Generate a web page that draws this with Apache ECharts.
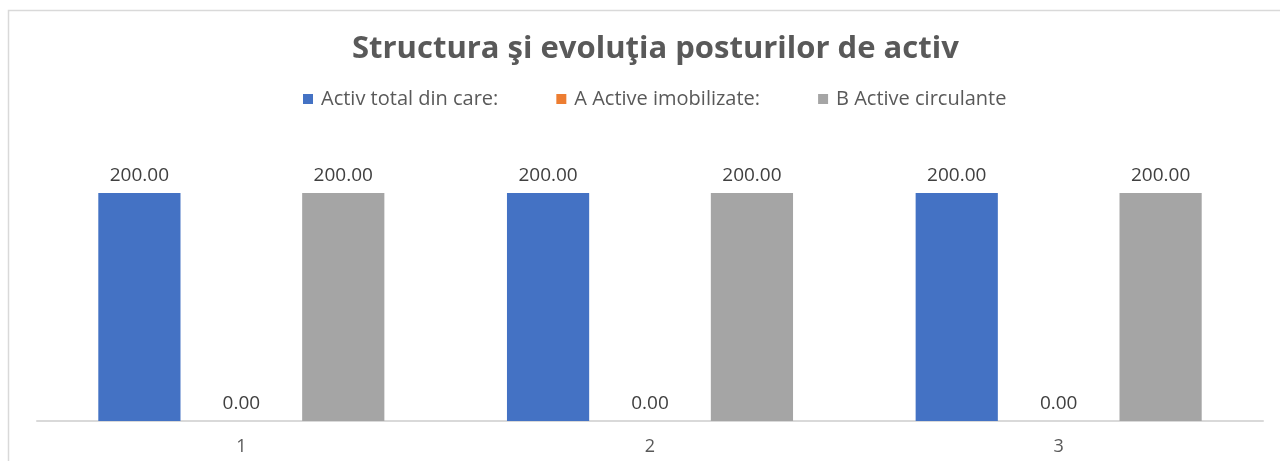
<!DOCTYPE html>
<html>
<head>
<meta charset="utf-8">
<style>
  html, body { margin: 0; padding: 0; background: #fff; }
  #main { width: 1280px; height: 461px; }
</style>
<script src="https://cdn.jsdelivr.net/npm/echarts@6/dist/echarts.min.js"></script>
</head>
<body>
<div id="main"></div>
<script>
const categories = ['1', '2', '3']
const seriesNames = ['Activ total din care:', 'A Active imobilizate:', 'B Active circulante']
const activTotal = [200, 200, 200]
const activeImobilizate = [0, 0, 0]
const activeCirculante = [200, 200, 200]

const font = '"Open Sans", "Noto Sans", sans-serif'

let chart = echarts.init(document.querySelector('#main'))

// etichetele de deasupra barelor
const labelStyle = {
  show: true,
  position: 'top',
  distance: 8,
  formatter: p => p.value.toFixed(2),
  color: '#404040',
  fontSize: 19,
  fontFamily: font
}

let option = {
  animation: false,
  color: ['#4472C4', '#ED7D31', '#A5A5A5'],
  title: {
    text: 'Structura şi evoluţia posturilor de activ',
    left: 347,
    top: 29,
    textStyle: {
      color: '#595959',
      fontSize: 31,
      fontWeight: 'bold',
      fontFamily: font
    }
  },
  legend: {
    top: 84,
    left: 298,
    itemWidth: 10,
    itemHeight: 10,
    itemGap: 58,
    icon: 'rect',
    textStyle: {
      color: '#595959',
      fontSize: 20,
      padding: [0, 0, 0, 3],
      fontFamily: font
    }
  },
  // chenarul graficului
  graphic: [{
    type: 'rect',
    shape: { x: 8.5, y: 10.5, width: 1300, height: 500 },
    style: { fill: null, stroke: '#d9d9d9', lineWidth: 1.5 },
    silent: true
  }],
  grid: {
    left: 37,
    right: 17,
    top: 136,
    bottom: 40
  },
  xAxis: {
    type: 'category',
    data: categories,
    axisTick: { show: false },
    axisLine: { lineStyle: { color: '#d9d9d9', width: 2 } },
    axisLabel: {
      margin: 17,
      color: '#595959',
      fontSize: 18,
      fontFamily: font
    }
  },
  yAxis: {
    type: 'value',
    min: 0,
    max: 250,
    show: false,
    splitLine: { show: false }
  },
  series: [
    {
      type: 'bar',
      name: seriesNames[0],
      data: activTotal,
      barGap: '24%',
      barCategoryGap: '30%',
      label: labelStyle
    },
    {
      type: 'bar',
      name: seriesNames[1],
      data: activeImobilizate,
      label: labelStyle
    },
    {
      type: 'bar',
      name: seriesNames[2],
      data: activeCirculante,
      label: labelStyle
    }
  ]
}

chart.setOption(option)
</script>
</body>
</html>
